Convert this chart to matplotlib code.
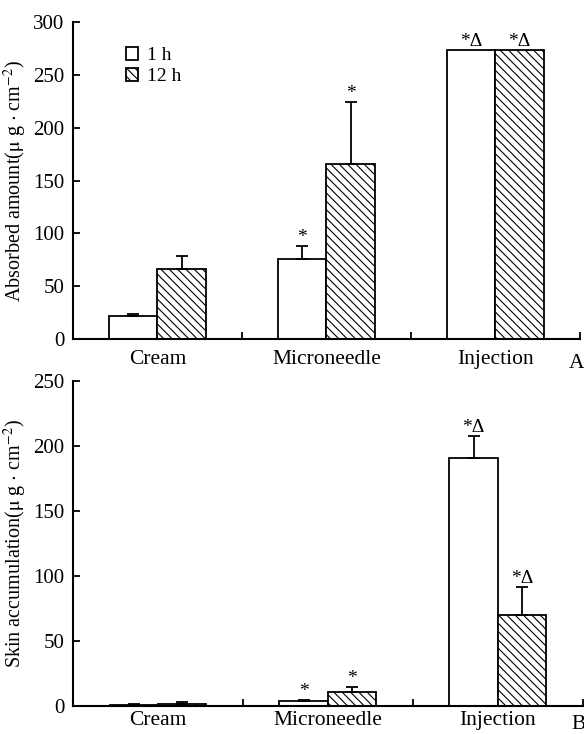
import numpy as np
import matplotlib
matplotlib.use("Agg")
import matplotlib.pyplot as plt
from matplotlib.patches import Patch

plt.rcParams['font.family'] = ['Liberation Serif', 'DejaVu Serif']
plt.rcParams['hatch.linewidth'] = 0.8
plt.rcParams['mathtext.fontset'] = 'stix'

groups = ["Cream", "Microneedle", "Injection"]
series = ["1 h", "12 h"]

# panel A: absorbed amount
absorbed_1h = [22, 75.5, 274]
absorbed_12h = [66.5, 165.5, 274]
absorbed_err_1h = [1.5, 12.5, 0]
absorbed_err_12h = [12.5, 59, 0]
absorbed_mark_1h = ["", "*", "*Δ"]
absorbed_mark_12h = ["", "*", "*Δ"]

# panel B: skin accumulation
skin_1h = [0.6, 3.4, 190.5]
skin_12h = [1.6, 10.5, 69.5]
skin_err_1h = [0.3, 1.0, 17]
skin_err_12h = [1.2, 4.0, 21.5]
skin_mark_1h = ["", "*", "*Δ"]
skin_mark_12h = ["", "*", "*Δ"]

W = 0.285
hatch = '\\\\\\\\'


def panel(ax, v1, v2, e1, e2, m1, m2, ymax, ystep, ylabel, xpad):
    x = np.arange(len(groups))
    ax.bar(x - W/2, v1, W, color='white', edgecolor='black', linewidth=1.3, label=series[0])
    ax.bar(x + W/2, v2, W, color='white', edgecolor='black', linewidth=1.3, hatch=hatch, label=series[1])
    for xs, v, e in [(x - W/2, v1, e1), (x + W/2, v2, e2)]:
        for xi, vi, ei in zip(xs, v, e):
            if ei > 0:
                ax.errorbar(xi, vi, yerr=[[0], [ei]], fmt='none', ecolor='black',
                            elinewidth=1.3, capsize=4, capthick=1.3)
    for xs, v, e, m in [(x - W/2, v1, e1, m1), (x + W/2, v2, e2, m2)]:
        for xi, vi, ei, mi in zip(xs, v, e, m):
            if mi:
                ax.annotate(mi, (xi, vi + ei), xytext=(0, 0), textcoords='offset points',
                            ha='center', va='bottom', fontsize=14)
    ax.set_xlim(-0.5, 2.5)
    ax.set_ylim(0, ymax)
    ax.set_yticks(np.arange(0, ymax + 1, ystep))
    ax.set_xticks(x)
    ax.set_xticklabels(groups, fontsize=15.5)
    ax.set_xticks([0.5, 1.5, 2.5], minor=True)
    ax.tick_params(axis='x', which='major', length=0, pad=xpad)
    ax.tick_params(axis='x', which='minor', direction='in', length=5, width=1.3)
    ax.tick_params(axis='y', direction='in', length=5, width=1.3, labelsize=15, pad=6)
    ax.spines['top'].set_visible(False)
    ax.spines['right'].set_visible(False)
    ax.spines['left'].set_linewidth(1.5)
    ax.spines['bottom'].set_linewidth(1.5)
    ax.set_ylabel(ylabel, fontsize=14.5)
    ax.yaxis.set_label_coords(-0.087, 0.5)


fig = plt.figure(figsize=(5.84, 7.34), dpi=100)
ax1 = fig.add_axes([0.125, 0.538, 0.868, 0.432])
ax2 = fig.add_axes([0.125, 0.0386, 0.873, 0.4427])

panel(ax1, absorbed_1h, absorbed_12h, absorbed_err_1h, absorbed_err_12h,
      absorbed_mark_1h, absorbed_mark_12h, 300, 50,
      r'Absorbed amount($\mathrm{\mu}$ g $\cdot$ cm$^{-2}$)', 8)
panel(ax2, skin_1h, skin_12h, skin_err_1h, skin_err_12h,
      skin_mark_1h, skin_mark_12h, 250, 50,
      r'Skin accumulation($\mathrm{\mu}$ g $\cdot$ cm$^{-2}$)', 4)

handles = [Patch(facecolor='white', edgecolor='black', linewidth=1.3),
           Patch(facecolor='white', edgecolor='black', linewidth=1.3, hatch='\\\\\\\\')]
ax1.legend(handles, series, loc='upper left', bbox_to_anchor=(0.07, 0.975), frameon=False,
           fontsize=14, handlelength=0.6, handleheight=0.6, handletextpad=0.5, labelspacing=0.2)

fig.text(0.987, 0.505, 'A', fontsize=15.5, ha='center', va='center')
fig.text(0.99, 0.013, 'B', fontsize=15.5, ha='center', va='center')

fig.savefig('out.png', dpi=100)
